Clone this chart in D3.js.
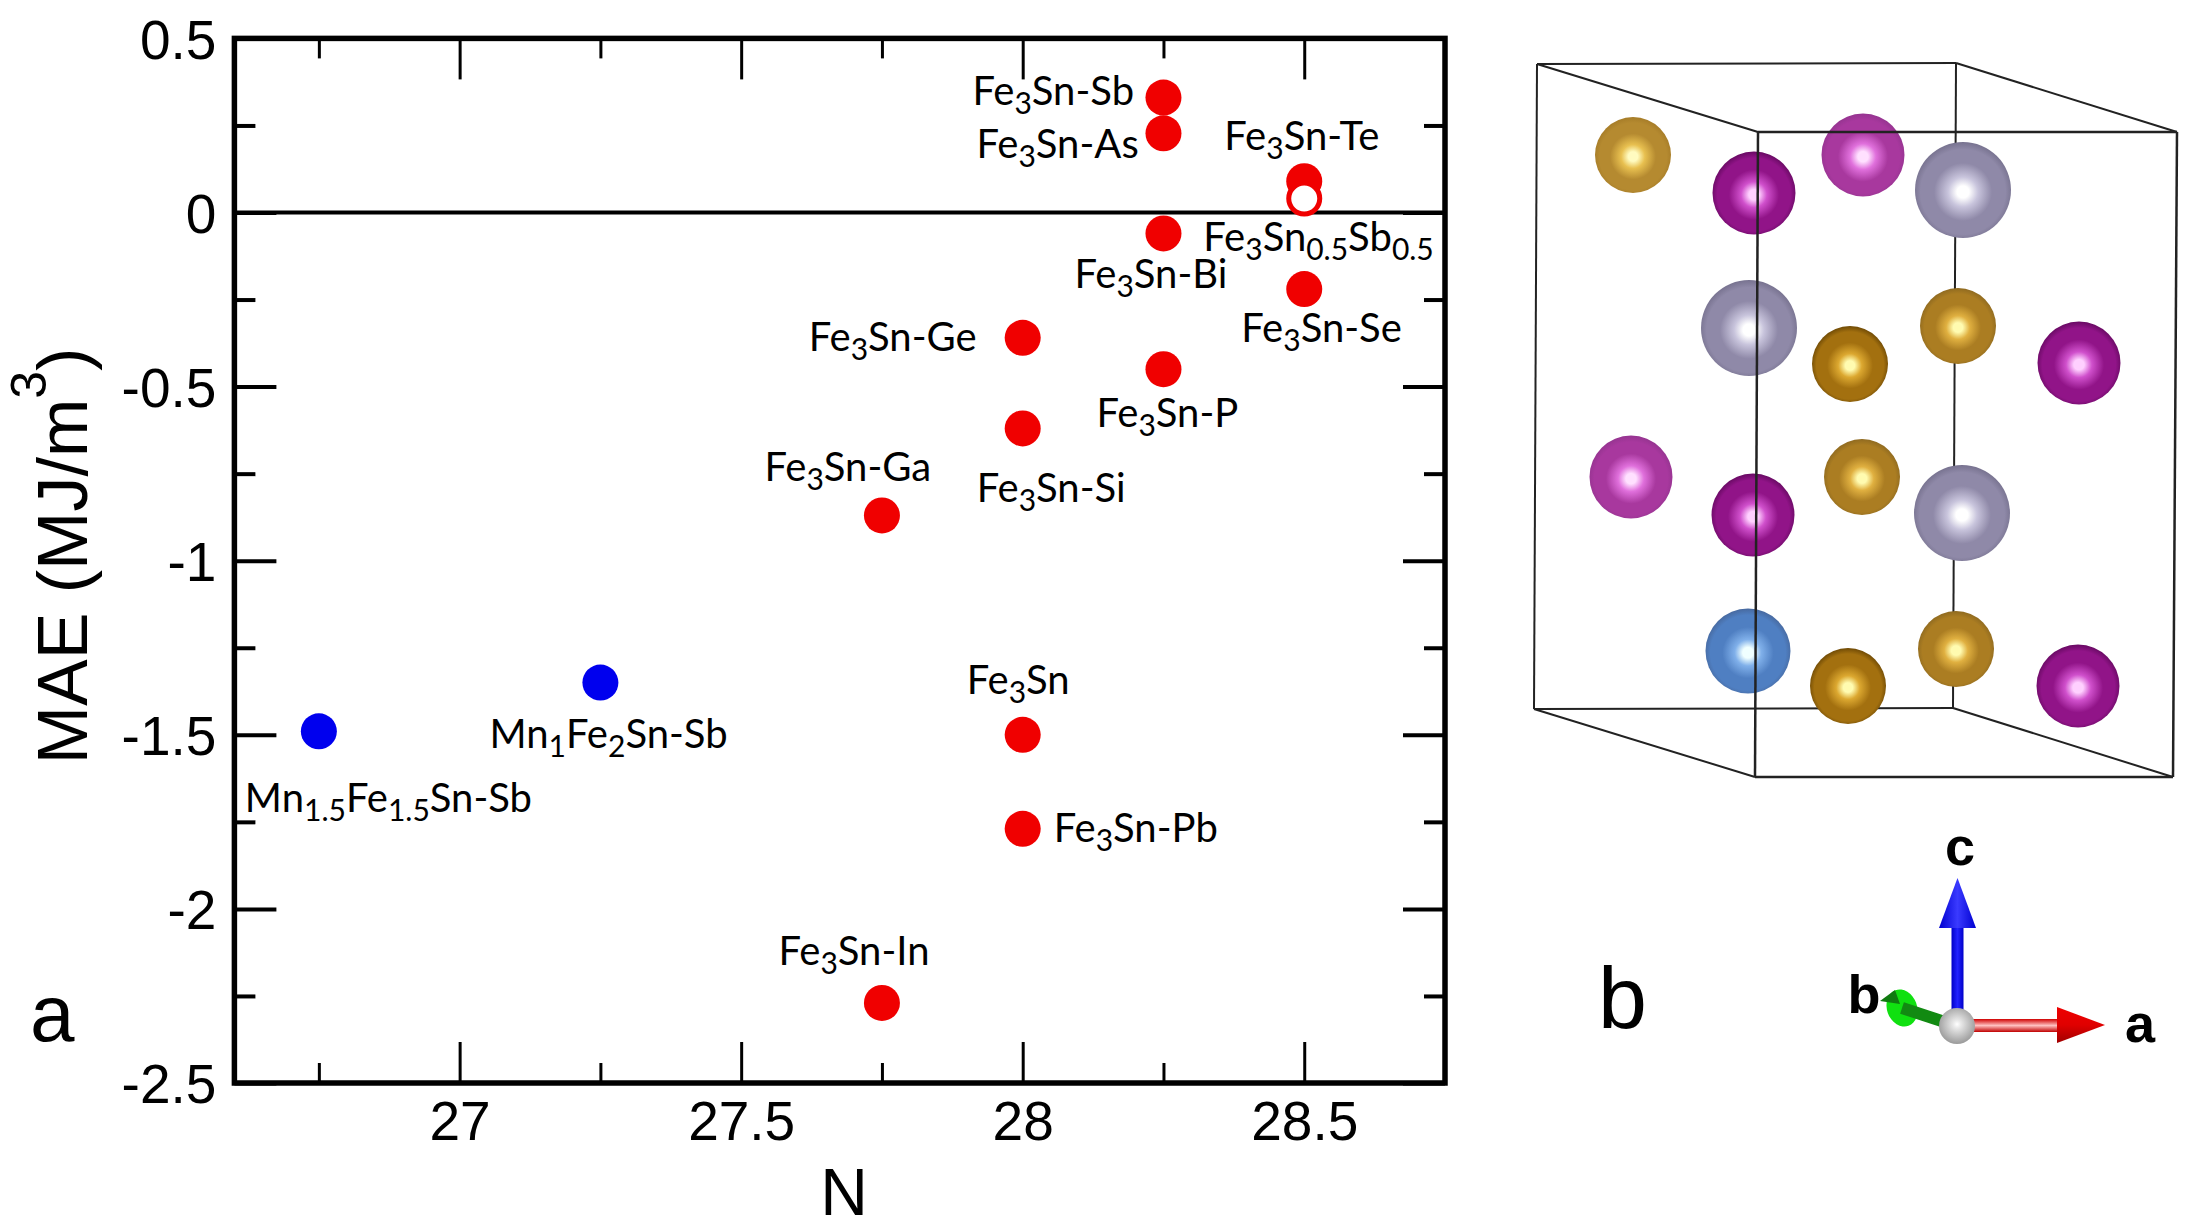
<!DOCTYPE html>
<html>
<head>
<meta charset="utf-8">
<script src="https://cdn.jsdelivr.net/npm/d3@7"></script>
<style>
  html, body { margin: 0; padding: 0; background: #fff; }
  svg { display: block; }
</style>
</head>
<body>
<div id="chart"></div>
<script>
// panel a: MAE vs N. "_x" in a name means subscript x
const names = ["Fe_3Sn-Sb", "Fe_3Sn-As", "Fe_3Sn-Te", "Fe_3Sn-Bi", "Fe_3Sn-Se", "Fe_3Sn-Ge", "Fe_3Sn-P",
  "Fe_3Sn-Si", "Fe_3Sn-Ga", "Fe_3Sn", "Fe_3Sn-Pb", "Fe_3Sn-In", "Mn_1Fe_2Sn-Sb", "Mn_1.5Fe_1.5Sn-Sb", "Fe_3Sn_0.5Sb_0.5"];
const nValues = [28.25, 28.25, 28.5, 28.25, 28.5, 28, 28.25, 28, 27.75, 28, 28, 27.75, 27.25, 26.75, 28.5];
const maeValues = [0.33, 0.2275, 0.09, -0.06, -0.22, -0.36, -0.45, -0.62, -0.87, -1.5, -1.77, -2.27, -1.35, -1.49, 0.04];
const kinds = ["fe", "fe", "fe", "fe", "fe", "fe", "fe", "fe", "fe", "fe", "fe", "fe", "mn", "mn", "mix"];

const xMajor = [27, 27.5, 28, 28.5];
const xMinor = [26.75, 27.25, 27.75, 28.25];
const yMajor = [0.5, 0, -0.5, -1, -1.5, -2, -2.5];
const yMinor = [0.25, -0.25, -0.75, -1.25, -1.75, -2.25];

// panel b: atoms, back to front
const atomU = [133, 363, 463, 458, 131, 362, 462, 456, 254, 253, 249, 248, 350, 579, 348, 578];
const atomV = [115, 115, 150, 286, 437, 437, 473, 609, 153, 475, 288, 611, 324, 323, 646, 646];
const atomKind = ["goldBack", "magentaBack", "grey", "goldMid", "magentaBack", "goldMid", "grey", "goldMid",
  "magenta", "magenta", "grey", "blue", "goldFront", "magenta", "goldFront", "magenta"];

const width = 2200, height = 1232;
const margin = { left: 234.4, right: 1445, top: 38.4, bottom: 1083 };

const svg = d3.select("#chart").append("svg").attr("width", width).attr("height", height);

const x = d3.scaleLinear().domain([26.6, 28.75]).range([margin.left, margin.right]);
const y = d3.scaleLinear().domain([-2.5, 0.5]).range([margin.bottom, margin.top]);

const sansFont = "'Liberation Sans', Arial, sans-serif";
const labelFont = "Lato, sans-serif";

// ticks on all four sides, only the lower and left ones carry labels
function drawAxis(axis, translate, sw) {
  const g = svg.append("g").attr("transform", translate).call(axis);
  g.select(".domain").remove();
  g.selectAll(".tick line").attr("stroke", "#000").attr("stroke-width", sw);
  g.selectAll("text").attr("font-family", sansFont).attr("font-size", 55).attr("fill", "#000");
  return g;
}

const xFmt = d => String(d);
drawAxis(d3.axisBottom(x).tickValues(xMajor).tickSize(-41).tickPadding(18).tickFormat(xFmt),
  `translate(0,${margin.bottom})`, 3);
drawAxis(d3.axisBottom(x).tickValues(xMinor).tickSize(-20).tickFormat(""), `translate(0,${margin.bottom})`, 3);
drawAxis(d3.axisTop(x).tickValues(xMajor).tickSize(-41).tickFormat(""), `translate(0,${margin.top})`, 3);
drawAxis(d3.axisTop(x).tickValues(xMinor).tickSize(-20).tickFormat(""), `translate(0,${margin.top})`, 3);
const leftAxis = drawAxis(d3.axisLeft(y).tickValues(yMajor).tickSize(-42).tickPadding(18).tickFormat(xFmt),
  `translate(${margin.left},0)`, 4);
leftAxis.selectAll("text").attr("dy", "0.36em");
drawAxis(d3.axisLeft(y).tickValues(yMinor).tickSize(-21).tickFormat(""), `translate(${margin.left},0)`, 4);
drawAxis(d3.axisRight(y).tickValues(yMajor).tickSize(-42).tickFormat(""), `translate(${margin.right},0)`, 4);
drawAxis(d3.axisRight(y).tickValues(yMinor).tickSize(-21).tickFormat(""), `translate(${margin.right},0)`, 4);

svg.append("line")
  .attr("x1", margin.left).attr("x2", margin.right)
  .attr("y1", y(0)).attr("y2", y(0))
  .attr("stroke", "#000").attr("stroke-width", 4);

svg.append("rect")
  .attr("x", margin.left).attr("y", margin.top)
  .attr("width", margin.right - margin.left).attr("height", margin.bottom - margin.top)
  .attr("fill", "none").attr("stroke", "#000").attr("stroke-width", 5.5);

const points = names.map((name, i) => ({ name, n: nValues[i], mae: maeValues[i], kind: kinds[i] }));

svg.selectAll("circle.pt")
  .data(points)
  .enter()
  .append("circle")
  .attr("class", "pt")
  .attr("cx", d => x(d.n))
  .attr("cy", d => y(d.mae))
  .attr("r", d => d.kind === "mix" ? 15.5 : 18)
  .attr("fill", d => d.kind === "mn" ? "#0000ee" : d.kind === "mix" ? "#fff" : "#f00000")
  .attr("stroke", d => d.kind === "mix" ? "#f00000" : "none")
  .attr("stroke-width", 5);

// label offsets from each point, same order as names
const labelDx = [-191, -187, -80, -89, -63, -214, -67, -46, -117.5, -56, 31, -103.5, -111, -74, -101];
const labelDy = [7, 25, -31, 55, 53, 13, 58, 74, -34, -41, 13, -38, 65, 80.5, 52];

function addFormula(sel, name) {
  const parts = name.split(/_([0-9.]+)/);
  parts.forEach((part, i) => {
    if (!part) return;
    const sub = i % 2 === 1;
    const prevSub = i > 0 && (i - 1) % 2 === 1;
    sel.append("tspan")
      .attr("dy", sub ? 9 : prevSub ? -9 : 0)
      .attr("font-size", sub ? 30 : 40)
      .text(part);
  });
}

svg.selectAll("text.lbl")
  .data(points)
  .enter()
  .append("text")
  .attr("class", "lbl")
  .attr("x", (d, i) => x(d.n) + labelDx[i])
  .attr("y", (d, i) => y(d.mae) + labelDy[i])
  .attr("font-family", labelFont)
  .attr("fill", "#000")
  .each(function(d) { addFormula(d3.select(this), d.name); });

// axis titles and panel letters
const yTitle = svg.append("text")
  .attr("transform", "translate(87,556) rotate(-90)")
  .attr("text-anchor", "middle")
  .attr("font-family", sansFont)
  .attr("font-size", 70)
  .text("MAE (MJ/m");
yTitle.append("tspan").attr("dy", -41).attr("font-size", 50).text("3");
yTitle.append("tspan").attr("dy", 41).text(")");

svg.append("text").attr("x", 844).attr("y", 1215)
  .attr("text-anchor", "middle")
  .attr("font-family", sansFont).attr("font-size", 66).text("N");

svg.append("text").attr("x", 30).attr("y", 1041)
  .attr("font-family", sansFont).attr("font-size", 80).text("a");
svg.append("text").attr("x", 1598).attr("y", 1028)
  .attr("font-family", sansFont).attr("font-size", 88).text("b");

// panel b
const panelX = d3.scaleLinear().domain([0, 700]).range([1500, 2200]);
const panelY = d3.scaleLinear().domain([0, 760]).range([40, 800]);

const boxBack = [[37, 24], [456, 23], [453, 668], [34, 669]];
const boxFront = [[258, 92], [677, 92], [673, 737], [255, 737]];

const defs = svg.append("defs");
const shades = {
  goldBack: { hi: "#fffbc0", glow: "#e8c050", mid: "#b58a30", edge: "#a67c28", r: 38 },
  goldMid: { hi: "#fffbb0", glow: "#e0b040", mid: "#ab7d22", edge: "#8f6a20", r: 38 },
  goldFront: { hi: "#fffbb0", glow: "#dca830", mid: "#a3700f", edge: "#6f4a05", r: 38 },
  magentaBack: { hi: "#ffe0ff", glow: "#e070dc", mid: "#a8389e", edge: "#953490", r: 41.5 },
  magenta: { hi: "#ffd0ff", glow: "#d050cc", mid: "#911488", edge: "#680a63", r: 41.5 },
  grey: { hi: "#ffffff", glow: "#c8c4dc", mid: "#8f89a8", edge: "#77728f", r: 48 },
  blue: { hi: "#f0ffff", glow: "#80b0ea", mid: "#4f7fc2", edge: "#47699f", r: 42.5 }
};
Object.keys(shades).forEach(k => {
  const g = defs.append("radialGradient").attr("id", k).attr("cx", "50%").attr("cy", "52%").attr("r", "52%");
  g.append("stop").attr("offset", "0%").attr("stop-color", shades[k].hi);
  g.append("stop").attr("offset", "12%").attr("stop-color", shades[k].hi);
  g.append("stop").attr("offset", "30%").attr("stop-color", shades[k].glow);
  g.append("stop").attr("offset", "58%").attr("stop-color", shades[k].mid);
  g.append("stop").attr("offset", "85%").attr("stop-color", shades[k].mid);
  g.append("stop").attr("offset", "100%").attr("stop-color", shades[k].edge);
});

function edge(a, b, sw) {
  svg.append("line")
    .attr("x1", panelX(a[0])).attr("y1", panelY(a[1]))
    .attr("x2", panelX(b[0])).attr("y2", panelY(b[1]))
    .attr("stroke", "#222").attr("stroke-width", sw);
}

// back of the cell goes under the atoms
d3.range(4).forEach(i => {
  edge(boxBack[i], boxBack[(i + 1) % 4], 2);
  edge(boxBack[i], boxFront[i], 2);
});

const atoms = atomU.map((u, i) => ({ u, v: atomV[i], kind: atomKind[i] }));
svg.selectAll("circle.atom")
  .data(atoms)
  .enter()
  .append("circle")
  .attr("class", "atom")
  .attr("cx", d => panelX(d.u))
  .attr("cy", d => panelY(d.v))
  .attr("r", d => shades[d.kind].r)
  .attr("fill", d => `url(#${d.kind})`);

d3.range(4).forEach(i => edge(boxFront[i], boxFront[(i + 1) % 4], 2.5));

// axis triad
const triadDefs = [
  { id: "shaftBlue", stops: ["#0000c8", "#2222ff", "#0000c8"], x2: "100%", y2: "0%" },
  { id: "shaftRed", stops: ["#d00000", "#ffc0c0", "#c00000"], x2: "0%", y2: "100%" },
  { id: "coneBlue", stops: ["#0000d0", "#3a3aff", "#0000d0"], x2: "100%", y2: "0%" },
  { id: "coneRed", stops: ["#ee0000", "#e00000", "#a00000"], x2: "0%", y2: "100%" }
];
triadDefs.forEach(t => {
  const g = defs.append("linearGradient").attr("id", t.id)
    .attr("x1", "0%").attr("y1", "0%").attr("x2", t.x2).attr("y2", t.y2);
  t.stops.forEach((c, i) => g.append("stop").attr("offset", `${i * 50}%`).attr("stop-color", c));
});
const ballGrad = defs.append("radialGradient").attr("id", "ball").attr("cx", "50%").attr("cy", "45%").attr("r", "55%");
ballGrad.append("stop").attr("offset", "0%").attr("stop-color", "#ffffff");
ballGrad.append("stop").attr("offset", "20%").attr("stop-color", "#e8e8e8");
ballGrad.append("stop").attr("offset", "100%").attr("stop-color", "#9a9a9a");

const poly = (pts, fill) => svg.append("polygon")
  .attr("points", pts.map(p => `${panelX(p[0])},${panelY(p[1])}`).join(" "))
  .attr("fill", fill);

// green b axis points back, so only its cone disc and shaft show
svg.append("ellipse").attr("cx", panelX(402)).attr("cy", panelY(968))
  .attr("rx", 15).attr("ry", 19).attr("transform", `rotate(-20 ${panelX(402)} ${panelY(968)})`)
  .attr("fill", "#10e010");
poly([[380, 961], [395, 950], [400, 964]], "#107a10");
svg.append("line").attr("x1", panelX(402)).attr("y1", panelY(968))
  .attr("x2", panelX(457)).attr("y2", panelY(986))
  .attr("stroke", "#128a12").attr("stroke-width", 12);

svg.append("rect").attr("x", panelX(451.5)).attr("y", panelY(888)).attr("width", 12).attr("height", 82)
  .attr("fill", "url(#shaftBlue)");
poly([[457.5, 838], [439, 888], [476, 888]], "url(#coneBlue)");
svg.append("rect").attr("x", panelX(470)).attr("y", panelY(979)).attr("width", 90).attr("height", 13)
  .attr("fill", "url(#shaftRed)");
poly([[557, 967], [605, 985], [557, 1003]], "url(#coneRed)");
svg.append("circle").attr("cx", panelX(457)).attr("cy", panelY(986)).attr("r", 18).attr("fill", "url(#ball)");

svg.selectAll("text.triad")
  .data(["c", "b", "a"])
  .enter()
  .append("text")
  .attr("class", "triad")
  .attr("x", (d, i) => panelX([460, 364, 640][i]))
  .attr("y", (d, i) => panelY([825, 973, 1002][i]))
  .attr("text-anchor", "middle")
  .attr("font-family", sansFont)
  .attr("font-weight", "bold")
  .attr("font-size", 54)
  .text(d => d);
</script>
</body>
</html>
